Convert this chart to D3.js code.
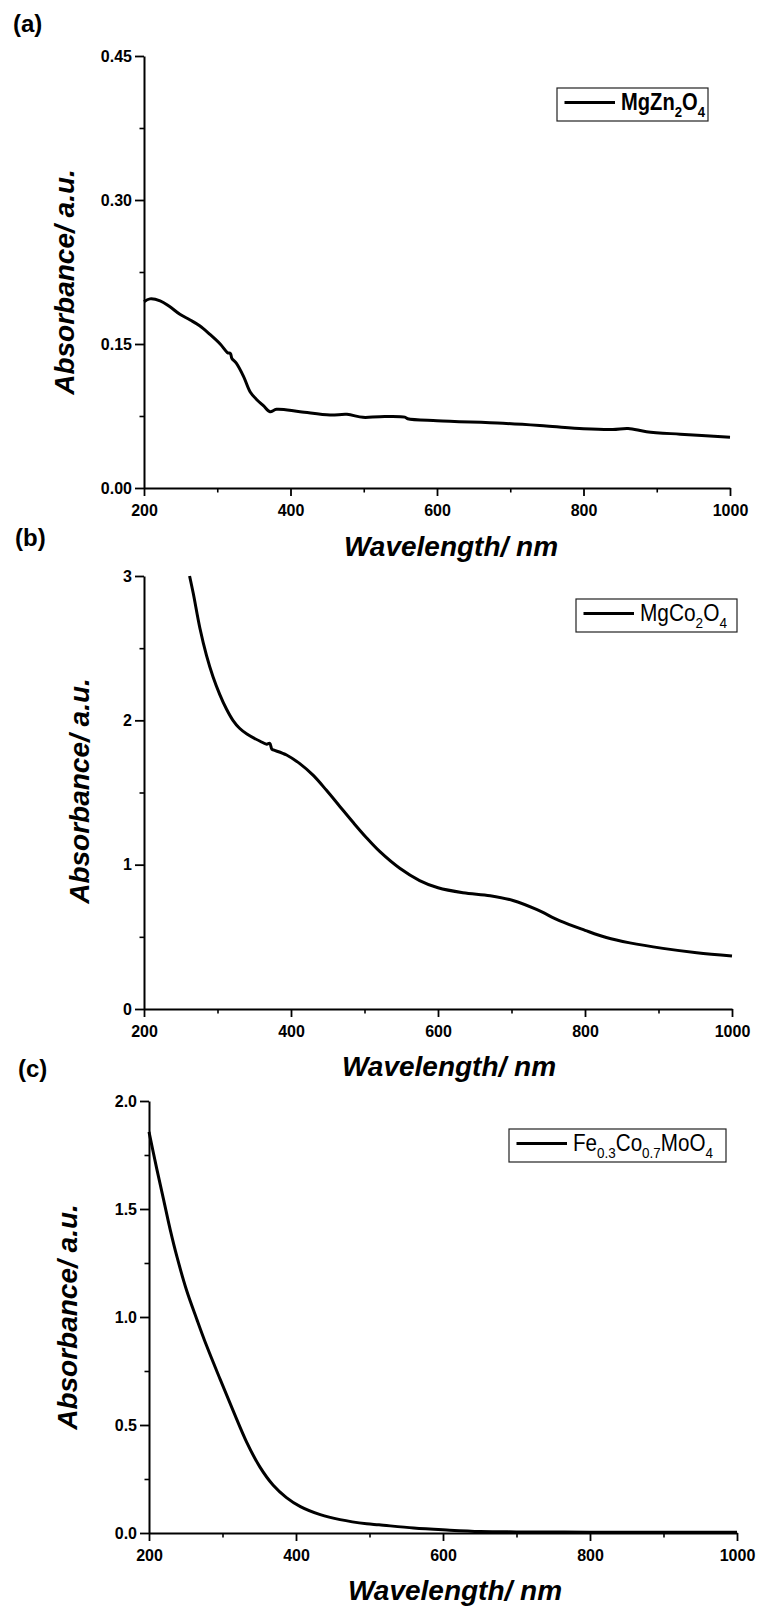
<!DOCTYPE html>
<html><head><meta charset="utf-8">
<script src="https://cdn.jsdelivr.net/npm/d3@7"></script>
<style>
html,body{margin:0;padding:0;background:#fff;}
svg{display:block;}
</style></head><body>
<script>
// UV-Vis absorbance spectra of three oxide samples

// (a) MgZn2O4
const wavelengthA = [200, 208, 222, 235, 249, 263, 276, 290, 304, 314, 318, 320, 326, 336, 345, 354, 363, 372, 381, 413, 454, 477, 499, 522, 556, 560, 600, 690, 749, 800, 840, 861, 886, 932, 1000];
const absorbanceA = [0.194, 0.197, 0.195, 0.189, 0.181, 0.175, 0.169, 0.160, 0.150, 0.141, 0.140, 0.135, 0.130, 0.116, 0.100, 0.092, 0.0857, 0.0795, 0.082, 0.0795, 0.076, 0.0767, 0.0736, 0.0743, 0.0738, 0.0722, 0.070, 0.0674, 0.0646, 0.0618, 0.061, 0.062, 0.0587, 0.056, 0.0528];

// (b) MgCo2O4
const wavelengthB = [262, 267, 276, 285, 294, 303, 312, 321, 330, 340, 358, 367, 371, 374, 376, 394, 412, 430, 448, 467, 485, 503, 521, 548, 575, 600, 634, 671, 702, 734, 766, 800, 829, 861, 906, 952, 1000];
const absorbanceB = [3.0, 2.88, 2.64, 2.45, 2.30, 2.18, 2.08, 2.00, 1.945, 1.905, 1.855, 1.835, 1.84, 1.80, 1.795, 1.76, 1.70, 1.62, 1.517, 1.40, 1.29, 1.185, 1.09, 0.975, 0.89, 0.840, 0.806, 0.785, 0.752, 0.69, 0.61, 0.545, 0.495, 0.458, 0.42, 0.39, 0.367];

// (c) Fe0.3Co0.7MoO4
const wavelengthC = [200, 210, 220, 229, 238, 251, 265, 278, 297, 315, 333, 351, 369, 387, 406, 433, 460, 496, 513, 560, 605, 651, 700, 800, 900, 1000];
const absorbanceC = [1.857, 1.695, 1.541, 1.402, 1.279, 1.125, 0.99, 0.87, 0.71, 0.562, 0.42, 0.305, 0.221, 0.164, 0.122, 0.085, 0.062, 0.043, 0.038, 0.023, 0.014, 0.007, 0.005, 0.004, 0.004, 0.004];

// Axis ticks
const xTicks = [200, 400, 600, 800, 1000];
const xMinorTicks = [300, 500, 700, 900];
const yTicksA = [0, 0.15, 0.30, 0.45];
const yMinorTicksA = [0.075, 0.225, 0.375];
const yTicksB = [0, 1, 2, 3];
const yMinorTicksB = [0.5, 1.5, 2.5];
const yTicksC = [0, 0.5, 1.0, 1.5, 2.0];
const yMinorTicksC = [0.25, 0.75, 1.25, 1.75];

// Panel letters and legend labels (pieces: [text, isSubscript])
const panelLetters = ["(a)", "(b)", "(c)"];
const legendA = [["MgZn", false], ["2", true], ["O", false], ["4", true]];
const legendB = [["MgCo", false], ["2", true], ["O", false], ["4", true]];
const legendC = [["Fe", false], ["0.3", true], ["Co", false], ["0.7", true], ["MoO", false], ["4", true]];

const xTitle = "Wavelength/ nm";
const yTitle = "Absorbance/ a.u.";

const W = 759, H = 1610;
const FONT = "'Liberation Sans', Arial, Helvetica, sans-serif";

const svg = d3.select("body").append("svg")
  .attr("width", W).attr("height", H)
  .style("font-family", FONT);

const panels = [
  { letter: panelLetters[0], xs: wavelengthA, ys: absorbanceA, yDomain: [0, 0.45],
    yTicks: yTicksA, yMinor: yMinorTicksA, yFmt: d3.format(".2f"),
    left: 144, right: 730, top: 56, bottom: 488,
    letterPos: [13, 32], xTitlePos: [451, 556], yTitlePos: [74, 282],
    legend: legendA, legendBold: true,
    legendBox: [557, 88, 151, 33], legendW: 84 },
  { letter: panelLetters[1], xs: wavelengthB, ys: absorbanceB, yDomain: [0, 3],
    yTicks: yTicksB, yMinor: yMinorTicksB, yFmt: d3.format("d"),
    left: 144, right: 732, top: 576, bottom: 1009,
    letterPos: [15, 546], xTitlePos: [449, 1076], yTitlePos: [89, 791],
    legend: legendB, legendBold: false,
    legendBox: [576, 599, 161, 33], legendW: 87 },
  { letter: panelLetters[2], xs: wavelengthC, ys: absorbanceC, yDomain: [0, 2],
    yTicks: yTicksC, yMinor: yMinorTicksC, yFmt: d3.format(".1f"),
    left: 149, right: 737, top: 1101, bottom: 1533,
    letterPos: [18, 1077], xTitlePos: [455, 1600], yTitlePos: [77, 1317],
    legend: legendC, legendBold: false,
    legendBox: [509, 1129, 217, 33], legendW: 140 }
];

panels.forEach(p => {
  const x = d3.scaleLinear().domain([200, 1000]).range([p.left, p.right]);
  const y = d3.scaleLinear().domain(p.yDomain).range([p.bottom, p.top]);
  const g = svg.append("g");

  // minor ticks
  g.append("g").attr("transform", `translate(0,${p.bottom})`)
    .call(d3.axisBottom(x).tickValues(xMinorTicks).tickSize(4.5).tickFormat(""))
    .call(s => s.select(".domain").remove())
    .call(s => s.selectAll("line").attr("stroke", "#000").attr("stroke-width", 1.6));
  g.append("g").attr("transform", `translate(${p.left},0)`)
    .call(d3.axisLeft(y).tickValues(p.yMinor).tickSize(4.5).tickFormat(""))
    .call(s => s.select(".domain").remove())
    .call(s => s.selectAll("line").attr("stroke", "#000").attr("stroke-width", 1.6));

  // major axes
  const xa = g.append("g").attr("transform", `translate(0,${p.bottom})`)
    .call(d3.axisBottom(x).tickValues(xTicks).tickSize(8).tickSizeOuter(0).tickPadding(6).tickFormat(d3.format("d")));
  const ya = g.append("g").attr("transform", `translate(${p.left},0)`)
    .call(d3.axisLeft(y).tickValues(p.yTicks).tickSize(9).tickSizeOuter(0).tickPadding(3).tickFormat(p.yFmt));
  [xa, ya].forEach(a => {
    a.select(".domain").attr("stroke", "#000").attr("stroke-width", 2);
    a.selectAll(".tick line").attr("stroke", "#000").attr("stroke-width", 1.8);
    a.selectAll(".tick text").attr("fill", "#000")
      .style("font-family", FONT).style("font-size", "16px").style("font-weight", "bold");
  });
  xa.selectAll(".tick text").attr("dy", null).attr("y", 28);

  // spectrum
  const line = d3.line().x(d => x(d[0])).y(d => y(d[1])).curve(d3.curveCatmullRom.alpha(0.5));
  g.append("path").datum(d3.zip(p.xs, p.ys))
    .attr("d", line).attr("fill", "none").attr("stroke", "#000")
    .attr("stroke-width", 3).attr("stroke-linejoin", "round");

  // titles
  g.append("text").attr("x", p.xTitlePos[0]).attr("y", p.xTitlePos[1])
    .attr("text-anchor", "middle").style("font-size", "28px")
    .style("font-weight", "bold").style("font-style", "italic").text(xTitle);
  g.append("text").attr("transform", `translate(${p.yTitlePos[0]},${p.yTitlePos[1]}) rotate(-90)`)
    .attr("text-anchor", "middle").style("font-size", "28px")
    .style("font-weight", "bold").style("font-style", "italic").text(yTitle);
  g.append("text").attr("x", p.letterPos[0]).attr("y", p.letterPos[1])
    .style("font-size", "24px").style("font-weight", "bold").text(p.letter);

  // legend
  const [bx, by, bw, bh] = p.legendBox;
  const lg = g.append("g");
  lg.append("rect").attr("x", bx).attr("y", by).attr("width", bw).attr("height", bh)
    .attr("fill", "#fff").attr("stroke", "#222").attr("stroke-width", 1.2);
  lg.append("line").attr("x1", bx + 7.5).attr("x2", bx + 58).attr("y1", by + 14.5).attr("y2", by + 14.5)
    .attr("stroke", "#000").attr("stroke-width", 3);
  const tg = lg.append("g");
  const t = tg.append("text").attr("x", 0).attr("y", 0)
    .style("font-size", "23px").style("font-weight", p.legendBold ? "bold" : "normal");
  p.legend.forEach(([s, sub], i) => {
    const prevSub = i > 0 && p.legend[i - 1][1];
    t.append("tspan").text(s)
      .style("font-size", sub ? "15px" : "23px")
      .attr("dy", sub ? 7 : (prevSub ? -7 : 0));
  });
  const tw = t.node().getComputedTextLength();
  const sx = p.legendW / tw;
  tg.attr("transform", `translate(${bx + 64},${by + 21.5}) scale(${sx},1)`);
});
</script>
</body></html>
